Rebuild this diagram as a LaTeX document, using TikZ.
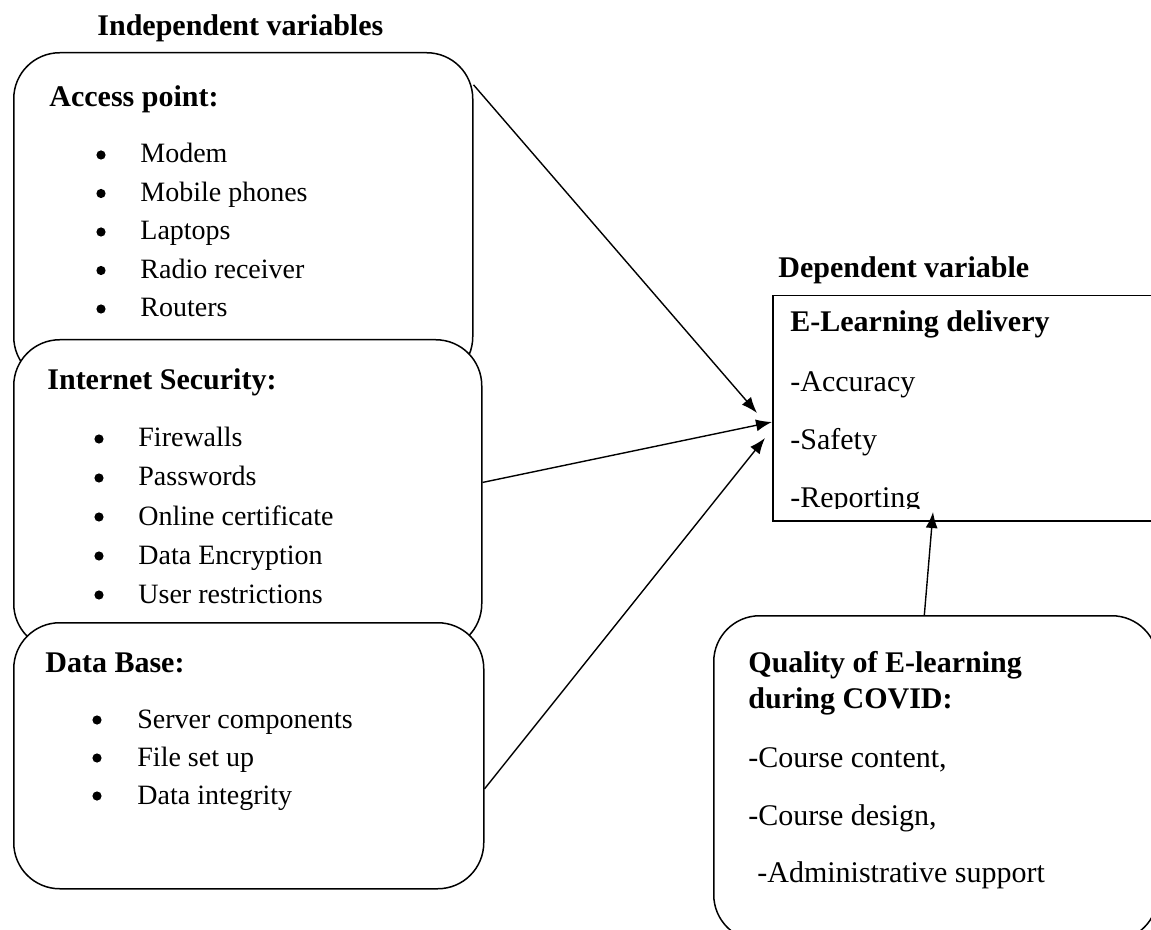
\documentclass[tikz,border=0pt]{standalone}
\usepackage{fontspec}
\setmainfont{Liberation Serif}
\usetikzlibrary{arrows.meta}

\begin{document}
\begin{tikzpicture}[x=0.5pt,y=-0.5pt,
        box/.style={draw,line width=0.75pt,rounded corners=23pt,fill=white,anchor=north west,inner sep=0pt},
        head/.style={anchor=base west,inner sep=0pt,font=\fontsize{15}{18}\selectfont\bfseries},
        txt/.style={anchor=base west,inner sep=0pt,font=\fontsize{15}{18}\selectfont},
        entry/.style={anchor=base west,inner sep=0pt,font=\fontsize{14}{17}\selectfont},
        dot/.style={circle,fill,inner sep=0pt,minimum size=4.6pt},
        arc/.style={draw,line width=0.7pt,-{Latex[length=8pt,width=6pt]}}]
        \useasboundingbox (0,0) rectangle (1151,930);
        \clip (0,0) rectangle (1151,930);

        % independent variables
        \node[head] (iv) at (97,36) {Independent variables};

        \node[box,minimum width=229.5pt,minimum height=165pt] (ap) at (13,52) {};
        \node[head] (aph) at (49,107) {Access point:};
        \foreach [count=\i] \lbl in {Modem,Mobile phones,Laptops,Radio receiver,Routers}{
            \node[dot] (apb\i) at (101,{155+38.5*(\i-1)}) {};
            \node[entry] (api\i) at (140,{163+38.5*(\i-1)}) {\lbl};
        }

        \node[box,minimum width=234pt,minimum height=155pt] (ins) at (13,339) {};
        \node[head] (insh) at (47,390) {Internet Security:};
        \foreach [count=\i] \lbl in {Firewalls,Passwords,Online certificate,Data Encryption,User restrictions}{
            \node[dot] (insb\i) at (99,{439+39*(\i-1)}) {};
            \node[entry] (insi\i) at (138,{447+39*(\i-1)}) {\lbl};
        }

        \node[box,minimum width=235pt,minimum height=133pt] (db) at (13,622) {};
        \node[head] (dbh) at (45,672) {Data Base:};
        \foreach [count=\i] \lbl in {Server components,File set up,Data integrity}{
            \node[dot] (dbb\i) at (97,{720+38*(\i-1)}) {};
            \node[entry] (dbi\i) at (137,{728+38*(\i-1)}) {\lbl};
        }

        % dependent variable
        \node[head] (dvt) at (778,278) {Dependent variable};
        \node[draw,line width=0.75pt,anchor=north west,inner sep=0pt,minimum width=194pt,minimum height=112.5pt] (dv) at (772,295) {};
        \begin{scope}
            \clip (772,295) rectangle (1160,508);
            \node[head] (dvh) at (790,332) {E-Learning delivery};
            \foreach [count=\i] \lbl in {-Accuracy,-Safety,-Reporting}{
                \node[txt] (dvi\i) at (790,{392+57.5*(\i-1)}) {\lbl};
            }
        \end{scope}

        % moderating box
        \node[box,minimum width=222pt,minimum height=162.5pt] (qe) at (713,615) {};
        \node[head] (qeh1) at (748,672) {Quality of E-learning};
        \node[head] (qeh2) at (748,708) {during COVID:};
        \node[txt] (qei1) at (748,767) {-Course content,};
        \node[txt] (qei2) at (748,825) {-Course design,};
        \node[txt] (qei3) at (757,882) {-Administrative support};

        % arrows
        \coordinate (t1) at (757,413);
        \coordinate (t2) at (772,422);
        \coordinate (t3) at (765,438);
        \coordinate (t4) at (933,512);
        \draw[arc] (ap.30) -- (t1);
        \draw[arc] (ins.3) -- (t2);
        \draw[arc] (db.-8) -- (t3);
        \draw[arc] (qe.94) -- (t4);
    \end{tikzpicture}
\end{document}
